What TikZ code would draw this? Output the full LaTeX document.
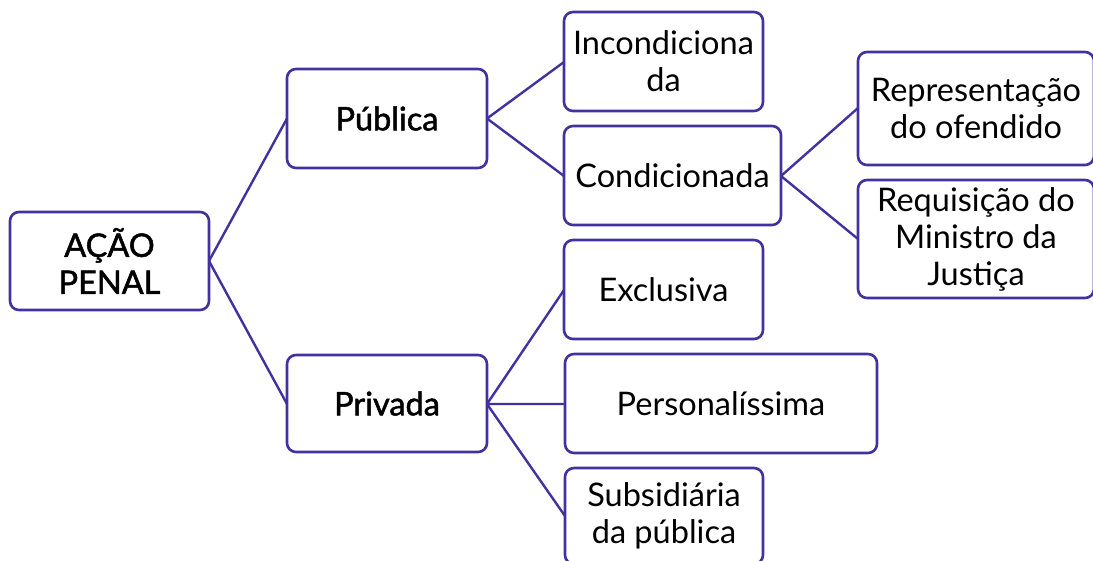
\documentclass[tikz,border=0pt]{standalone}
\usepackage{fontspec}
\setmainfont{Lato}
\newfontfamily\medfont[FakeBold=1.5]{Lato}
\definecolor{stroke}{RGB}{66,50,160}
\tikzset{
  box/.style={draw=stroke, line width=2.6pt, rounded corners=9pt, fill=white,
    align=center, inner sep=0pt, font=\fontsize{32.5}{37}\selectfont},
  link/.style={draw=stroke, line width=2.4pt},
}
\begin{document}
\begin{tikzpicture}[x=1pt,y=-1pt]
\useasboundingbox (0,0) rectangle (1093,560);
\clip (0,0) rectangle (1093,560);
% connectors first
\coordinate (acaoR) at (209,261);
\coordinate (pubL) at (287,118.5);
\coordinate (pubR) at (487,118.5);
\coordinate (privL) at (287,404);
\coordinate (privR) at (487,404);
\coordinate (incL) at (564,62);
\coordinate (condL) at (564,176);
\coordinate (condR) at (781,176);
\coordinate (repL) at (858,108);
\coordinate (reqL) at (858,239);
\coordinate (excL) at (564,290);
\coordinate (persL) at (565,404);
\coordinate (subL) at (565,516);
\draw[link] (pubL) -- (acaoR) -- (privL);
\draw[link] (incL) -- (pubR) -- (condL);
\draw[link] (repL) -- (condR) -- (reqL);
\draw[link] (excL) -- (privR) -- (persL);
\draw[link] (privR) -- (subL);
% boxes
\node[box, minimum width=199pt, minimum height=98pt] (acao) at (109.5,261)
  {{\medfont AÇÃO}\\{\medfont PENAL}};
\node[box, minimum width=200pt, minimum height=99pt] (pub) at (387,118.5) {\medfont Pública};
\node[box, minimum width=200pt, minimum height=97pt] (priv) at (387,403.5) {\medfont Privada};
\node[box, minimum width=199pt, minimum height=99pt] (inc) at (663.5,61.5) {Incondiciona\\da};
\node[box, minimum width=217pt, minimum height=99pt] (cond) at (672.5,175.5) {Condicionada};
\node[box, minimum width=236pt, minimum height=113pt] (rep) at (976,108.5) {Representação\\do ofendido};
\node[box, minimum width=236pt, minimum height=118pt] (req) at (976,239) {Requisição do\\Ministro da\\Justiça};
\node[box, minimum width=199pt, minimum height=99pt] (exc) at (663.5,289.5) {Exclusiva};
\node[box, minimum width=312pt, minimum height=99pt] (pers) at (721,403.5) {Personalíssima};
\node[box, minimum width=198pt, minimum height=96pt] (sub) at (664,516) {Subsidiária\\da pública};
\end{tikzpicture}
\end{document}
